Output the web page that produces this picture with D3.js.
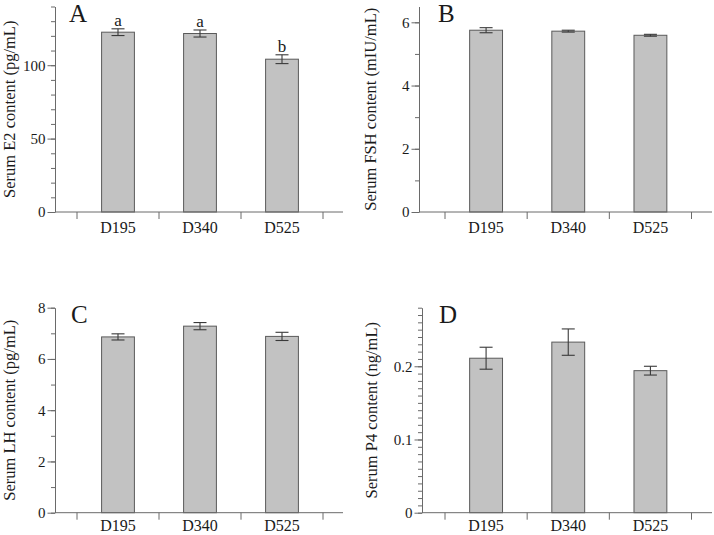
<!DOCTYPE html>
<html>
<head>
<meta charset="utf-8">
<script src="https://cdn.jsdelivr.net/npm/d3@7/dist/d3.min.js"></script>
<style>
  html, body { margin: 0; padding: 0; background: #fff; }
  svg text { font-family: "Liberation Serif", "Times New Roman", Times, serif; fill: #1a1a1a; }
</style>
</head>
<body>
<svg id="chart" width="714" height="535"></svg>
<script>
// ---- data ----
const categories = ["D195", "D340", "D525"];

const e2Mean = [122.5, 121.6, 104.1];
const e2Err = [2.3, 2.4, 3.0];
const e2Letters = ["a", "a", "b"];

const fshMean = [5.75, 5.72, 5.59];
const fshErr = [0.08, 0.03, 0.03];

const lhMean = [6.86, 7.28, 6.88];
const lhErr = [0.12, 0.14, 0.16];

const p4Mean = [0.211, 0.233, 0.194];
const p4Err = [0.015, 0.018, 0.006];

const e2Ticks = [0, 50, 100];
const fshTicks = [0, 2, 4, 6];
const lhTicks = [0, 2, 4, 6, 8];
const p4Ticks = [0, 0.1, 0.2];

const panelLetters = ["A", "B", "C", "D"];
const yTitles = [
  "Serum E2 content (pg/mL)",
  "Serum FSH content (mIU/mL)",
  "Serum LH content (pg/mL)",
  "Serum P4 content (ng/mL)"
];

// ---- layout ----
const panels = [
  { letter: panelLetters[0], title: yTitles[0], mean: e2Mean, err: e2Err, letters: e2Letters,
    ticks: e2Ticks, minorStep: 10, yMax: 140, fmt: d3.format("d"),
    x0: 55, x1: 343, bandL: 77, bandR: 323, yTop: 6.5, yBase: 212, labelY: 233,
    titleX: 10, letterX: 69 },
  { letter: panelLetters[1], title: yTitles[1], mean: fshMean, err: fshErr, letters: null,
    ticks: fshTicks, minorStep: 1, yMax: 6.5, fmt: d3.format("d"),
    x0: 419, x1: 712, bandL: 445, bandR: 691.5, yTop: 6.5, yBase: 212, labelY: 233,
    titleX: 371, letterX: 438 },
  { letter: panelLetters[2], title: yTitles[2], mean: lhMean, err: lhErr, letters: null,
    ticks: lhTicks, minorStep: 1, yMax: 8, fmt: d3.format("d"),
    x0: 55, x1: 343, bandL: 77, bandR: 323, yTop: 307.7, yBase: 512.7, labelY: 530.5,
    titleX: 10, letterX: 71 },
  { letter: panelLetters[3], title: yTitles[3], mean: p4Mean, err: p4Err, letters: null,
    ticks: p4Ticks, minorStep: 0.01, yMax: 0.28, fmt: d => (d === 0 ? "0" : d3.format(".1f")(d)),
    x0: 422, x1: 712, bandL: 445, bandR: 691.5, yTop: 307.7, yBase: 512.7, labelY: 530.5,
    titleX: 372, letterX: 439 }
];

const svg = d3.select("#chart");
const axisColor = "#6a6a6a";

panels.forEach(p => {
  const g = svg.append("g");

  const y = d3.scaleLinear().domain([0, p.yMax]).range([p.yBase, p.yTop]);
  const x = d3.scaleBand().domain(categories).range([p.bandL, p.bandR])
    .paddingInner(0.6).paddingOuter(0.3);

  // bars
  g.selectAll("rect.bar").data(categories).join("rect")
    .attr("class", "bar")
    .attr("x", c => x(c))
    .attr("width", x.bandwidth())
    .attr("y", (c, i) => y(p.mean[i]))
    .attr("height", (c, i) => p.yBase - y(p.mean[i]))
    .attr("fill", "#c2c2c2")
    .attr("stroke", "#5a5a5a")
    .attr("stroke-width", 1);

  // error bars
  const capW = 6.5;
  categories.forEach((c, i) => {
    const cx = x(c) + x.bandwidth() / 2;
    const hi = y(p.mean[i] + p.err[i]);
    const lo = y(p.mean[i] - p.err[i]);
    const eg = g.append("g").attr("stroke", "#3a3a3a").attr("stroke-width", 1.1);
    eg.append("line").attr("x1", cx).attr("x2", cx).attr("y1", hi).attr("y2", lo);
    eg.append("line").attr("x1", cx - capW).attr("x2", cx + capW).attr("y1", hi).attr("y2", hi);
    eg.append("line").attr("x1", cx - capW).attr("x2", cx + capW).attr("y1", lo).attr("y2", lo);
    if (p.letters) {
      g.append("text")
        .attr("x", cx).attr("y", hi - 3)
        .attr("text-anchor", "middle")
        .style("font-size", "17px")
        .text(p.letters[i]);
    }
  });

  // y axis minor ticks
  const minorVals = d3.range(0, p.yMax + p.minorStep / 2, p.minorStep)
    .map(v => +v.toFixed(4));
  const minorAxis = d3.axisLeft(y).tickValues(minorVals).tickSize(4).tickSizeOuter(0).tickFormat("");
  const gMinor = g.append("g").attr("transform", `translate(${p.x0},0)`).call(minorAxis);
  gMinor.selectAll("path,line").attr("stroke", axisColor);

  // y axis major
  const majorAxis = d3.axisLeft(y).tickValues(p.ticks).tickSize(7.5).tickSizeOuter(0)
    .tickPadding(2).tickFormat(p.fmt);
  const gMajor = g.append("g").attr("transform", `translate(${p.x0},0)`).call(majorAxis);
  gMajor.select(".domain").remove();
  gMajor.selectAll("line").attr("stroke", axisColor);
  gMajor.selectAll("text")
    .style("font-size", "15px")
    .style("font-family", "'Liberation Serif', 'Times New Roman', serif")
    .attr("fill", "#1a1a1a");

  // x axis line
  g.append("line")
    .attr("x1", p.x0).attr("x2", p.x1)
    .attr("y1", p.yBase).attr("y2", p.yBase)
    .attr("stroke", axisColor).attr("stroke-width", 1);

  // separator ticks between groups
  const step = x.step();
  const seps = categories.map(c => x(c) - (step - x.bandwidth()) / 2);
  seps.push(p.bandR);
  g.selectAll("line.sep").data(seps).join("line")
    .attr("class", "sep")
    .attr("x1", d => d).attr("x2", d => d)
    .attr("y1", p.yBase).attr("y2", p.yBase + 7)
    .attr("stroke", axisColor);

  // category labels
  g.selectAll("text.cat").data(categories).join("text")
    .attr("class", "cat")
    .attr("x", c => x(c) + x.bandwidth() / 2)
    .attr("y", p.labelY)
    .attr("text-anchor", "middle")
    .style("font-size", "16px")
    .text(c => c);

  // y title
  const midY = (p.yTop + p.yBase) / 2;
  g.append("text")
    .attr("transform", `translate(${p.titleX + 5},${midY}) rotate(-90)`)
    .attr("text-anchor", "middle")
    .style("font-size", "16.5px")
    .text(p.title);

  // panel letter
  g.append("text")
    .attr("x", p.letterX).attr("y", p.yTop + 15.5)
    .style("font-size", "25px")
    .text(p.letter);
});
</script>
</body>
</html>
